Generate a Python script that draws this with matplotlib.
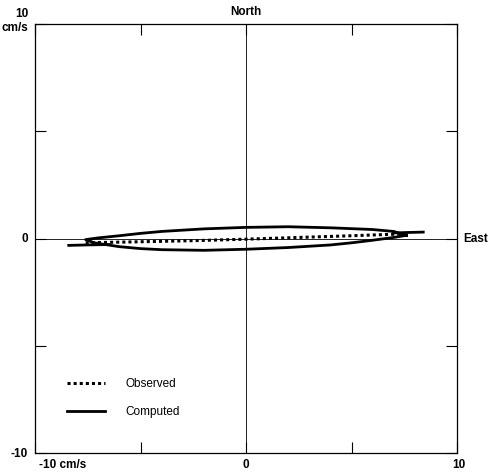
import matplotlib.pyplot as plt
import numpy as np

plt.rcParams['font.family'] = ['Liberation Sans', 'DejaVu Sans']

# computed current ellipse (cm/s)
comp_x = [7.6, 7.0, 6.0, 4.0, 2.0, 0.0, -2.0, -4.0, -5.0, -6.0, -7.0, -7.6,
          -7.2, -6.0, -5.0, -4.0, -2.0, 0.0, 2.0, 4.0, 5.0, 6.0, 7.0, 7.6]
comp_y = [0.15, 0.33, 0.42, 0.5, 0.55, 0.52, 0.45, 0.33, 0.24, 0.13, 0.03, -0.05,
          -0.2, -0.38, -0.47, -0.52, -0.55, -0.5, -0.42, -0.3, -0.2, -0.08, 0.05, 0.15]
# tails of the computed curve
tail_r_x = [7.0, 7.6, 8.4]
tail_r_y = [0.26, 0.28, 0.3]
tail_l_x = [-8.4, -7.6, -6.5]
tail_l_y = [-0.32, -0.3, -0.28]

# observed ellipse (nearly degenerate)
obs_x = [-7.6, -5.0, -2.5, 0.0, 2.5, 5.0, 7.6]
obs_y = [-0.2, -0.15, -0.1, -0.03, 0.05, 0.13, 0.22]

fig = plt.figure(figsize=(4.89, 4.72), dpi=100)
ax = fig.add_axes([0.0716, 0.0403, 0.863, 0.9087])
ax.set_xlim(-10, 10)
ax.set_ylim(-10, 10)

ax.axhline(0, color='black', lw=0.6)
ax.axvline(0, color='black', lw=0.6)

ax.plot(comp_x, comp_y, color='black', lw=2.0, label='Computed')
ax.plot(tail_r_x, tail_r_y, color='black', lw=2.0)
ax.plot(tail_l_x, tail_l_y, color='black', lw=2.0)
ax.plot(obs_x, obs_y, color='black', lw=2.2, ls=(0, (1, 1)), label='Observed')

handles, labels = ax.get_legend_handles_labels()
ax.legend(handles[::-1], labels[::-1], loc='lower left', bbox_to_anchor=(0.05, 0.057),
          frameon=False, fontsize=8.5, handlelength=3.2, labelspacing=1.35,
          handletextpad=1.8)

ax.set_xticks([-10, -5, 0, 5, 10])
ax.set_yticks([-10, -5, 0, 5, 10])
ax.set_xticklabels([])
ax.set_yticklabels([])
ax.tick_params(direction='in', length=8, width=0.8, top=True, right=True)
for s in ax.spines.values():
    s.set_linewidth(0.9)

fs = 8.5
kw = dict(fontsize=fs, fontweight='bold', clip_on=False)
ax.text(0, 10.3, 'North', ha='center', va='bottom', **kw)
ax.text(10.3, 0, 'East', ha='left', va='center', **kw)
ax.text(-10.3, 10.45, '10', ha='right', va='center', **kw)
ax.text(-10.3, 9.8, 'cm/s', ha='right', va='center', **kw)
ax.text(-10.35, 0, '0', ha='right', va='center', **kw)
ax.text(-10.35, -10.05, '-10', ha='right', va='center', **kw)
ax.text(-9.8, -10.3, '-10 cm/s', ha='left', va='top', **kw)
ax.text(0, -10.3, '0', ha='center', va='top', **kw)
ax.text(10.1, -10.3, '10', ha='center', va='top', **kw)

fig.savefig('out.png', dpi=100)
